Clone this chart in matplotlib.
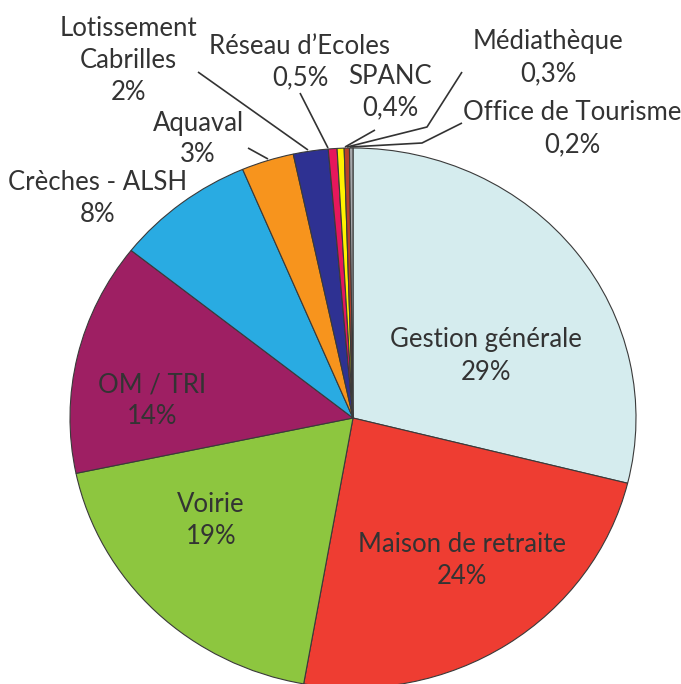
import matplotlib
matplotlib.use("Agg")
import matplotlib.pyplot as plt

labels = ["Gestion générale", "Maison de retraite", "Voirie", "OM / TRI",
          "Crèches - ALSH", "Aquaval", "Lotissement\nCabrilles", "Réseau d’Ecoles",
          "SPANC", "Médiathèque", "Office de Tourisme"]
values = [29, 24, 19, 14, 8, 3, 2, 0.5, 0.4, 0.3, 0.2]
pct_text = ["29%", "24%", "19%", "14%", "8%", "3%", "2%", "0,5%", "0,4%", "0,3%", "0,2%"]
colors = ["#d5ecee", "#ee3d32", "#8dc63f", "#9e1f63", "#29abe2", "#f7941d",
          "#2e3192", "#e6175c", "#fff200", "#b8402a", "#a7a9ac"]

# label anchor positions, in picture pixels (x right, y down)
label_px = [(486, 356), (462, 561), (211, 521), (152, 401), (98, 199), (198, 139),
            (128, 60), (300, 62), (390, 92), (548, 58), (572, 129)]
# leader lines for the thin outer slices, in picture pixels
leaders = {
    "Aquaval": [(248, 148), (268, 159)],
    "Lotissement": [(198, 72), (308, 150)],
    "Reseau": [(300, 93), (328, 148)],
    "SPANC": [(375, 130), (345, 147)],
    "Mediatheque": [(462, 72), (427, 127), (347, 147)],
    "Office": [(462, 123), (422, 143), (350, 147)],
}

W, H = 681, 684
CX, CY, RX, RY = 353, 418, 283, 270   # pie slightly squashed vertically
LINE = 32                             # line pitch of labels, px


def to_data(px, py):
    return (px - CX) / RX, (CY - py) / RY


fig = plt.figure(figsize=(W / 100, H / 100), dpi=100)
ax = fig.add_axes([0, 0, 1, 1])
ax.pie(values, colors=colors, startangle=90, counterclock=False,
       wedgeprops=dict(edgecolor="#3a3a3a", linewidth=0.8))
ax.set_aspect("auto")
ax.set_xlim(to_data(0, 0)[0], to_data(W, 0)[0])
ax.set_ylim(to_data(0, H)[1], to_data(0, 0)[1])
ax.axis("off")

for pts in leaders.values():
    xs, ys = zip(*[to_data(*p) for p in pts])
    ax.plot(xs, ys, color="#333333", lw=1.2, solid_capstyle="butt")

for lab, pct, (px, py) in zip(labels, pct_text, label_px):
    lines = lab.split("\n") + [pct]
    n = len(lines)
    for i, s in enumerate(lines):
        x, y = to_data(px, py + (i - (n - 1) / 2) * LINE)
        ax.text(x, y, s, ha="center", va="center", fontsize=18.5,
                family="Lato", color="#333333")

fig.savefig("out.png", dpi=100)
